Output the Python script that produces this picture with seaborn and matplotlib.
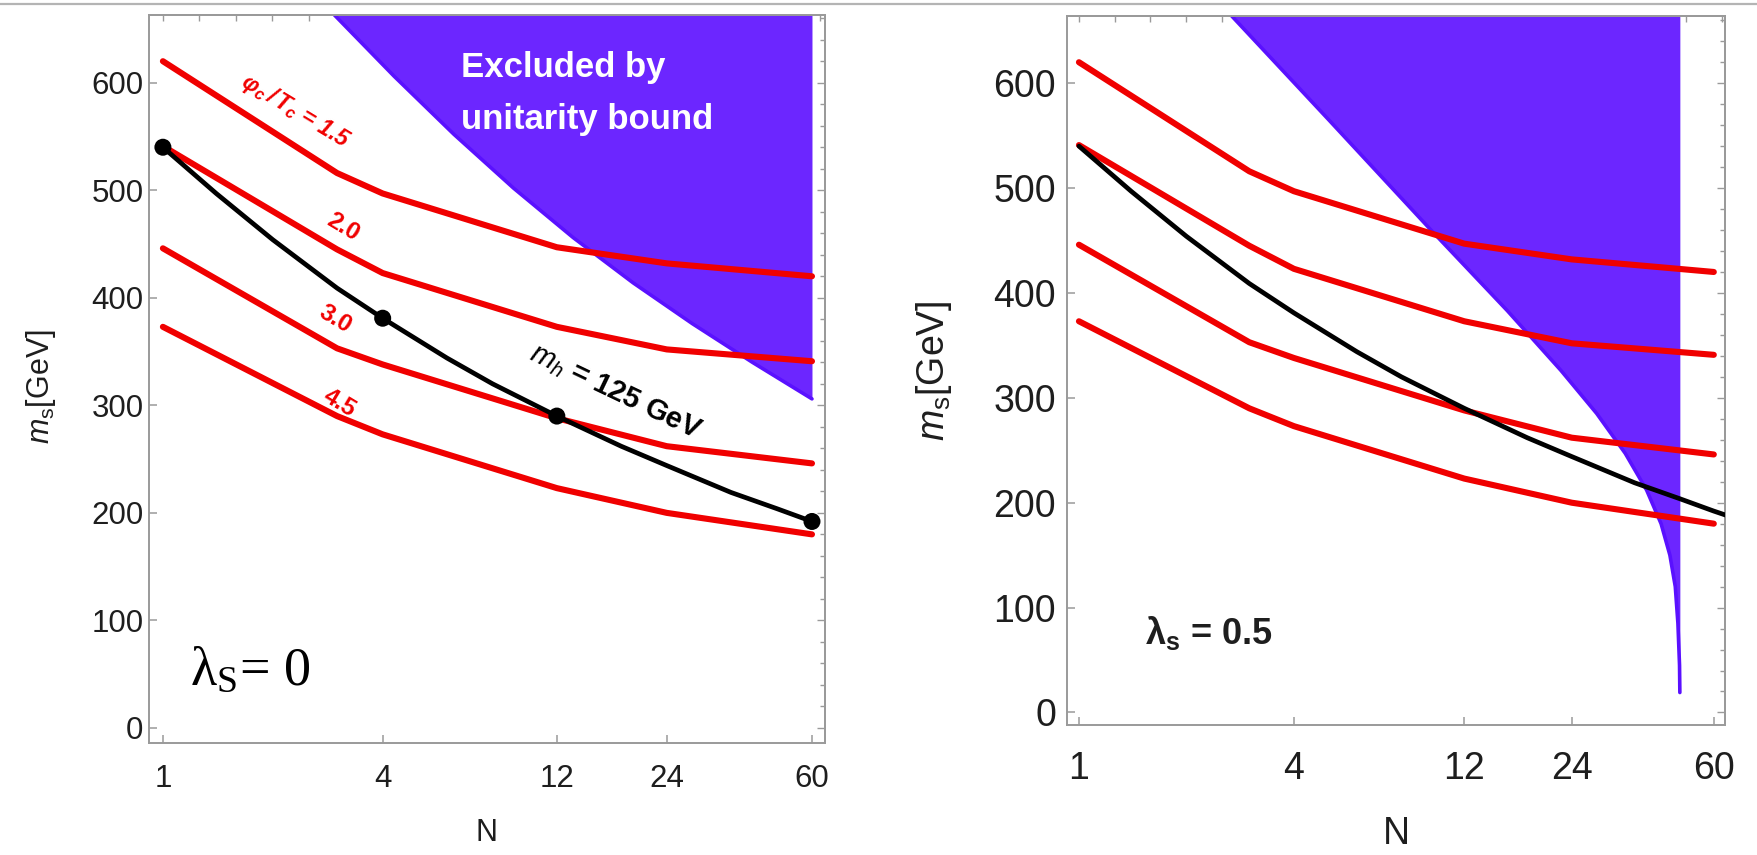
import numpy as np
import pandas as pd
import matplotlib
matplotlib.use("Agg")
import matplotlib.pyplot as plt
import seaborn as sns
from matplotlib.ticker import FixedLocator, FixedFormatter, NullLocator, NullFormatter
from matplotlib.lines import Line2D

# ---------------- data ----------------
n_red = [1, 3, 4, 12, 24, 60]
red_15 = [620, 516, 497, 447, 432, 420]
red_20 = [541, 445, 423, 373, 352, 341]
red_30 = [446, 353, 338, 288, 262, 246]
red_45 = [373, 290, 273, 223, 200, 180]
red_labels = ["1.5", "2.0", "3.0", "4.5"]

n_black = [1, 1.4, 2, 3, 4, 6, 8, 12, 18, 24, 36, 48, 60, 65]
m_black = [540, 497, 454, 409, 381, 344, 320, 290, 262, 244, 219, 204, 192, 188]

n_dots = [1, 4, 12, 60]
m_dots = [540, 381, 290, 192]

# unitarity bound, left panel (lambda_S = 0)
n_bound_l = [2.80, 2.95, 4.30, 6.27, 9.13, 13.3, 19.4, 28.2, 41.2, 60]
m_bound_l = [680, 663, 606, 552, 502, 456, 414, 376, 340, 306]
n_edge_l = 60

# unitarity bound, right panel (lambda_S = 0.5)
n_bound_r = [2.60, 2.68, 5.01, 9.62, 15.85, 22.4, 28.2, 33.9, 38.9, 42.7, 45.2,
             46.8, 47.6, 48.1, 48.2]
m_bound_r = [675, 664, 565, 461, 383, 326, 285, 247, 212, 180, 150,
             120, 85, 45, 19]
n_edge_r = 48.2

x_ticks = [1, 4, 12, 24, 60]
x_tick_labels = ["1", "4", "12", "24", "60"]
y_ticks = [0, 100, 200, 300, 400, 500, 600]
y_tick_labels = ["0", "100", "200", "300", "400", "500", "600"]

# ---------------- style ----------------
sns.set_theme(style="white")
plt.rcParams["font.family"] = ["Liberation Sans", "DejaVu Sans"]
plt.rcParams["mathtext.fontset"] = "custom"
plt.rcParams["mathtext.rm"] = "Liberation Sans"
plt.rcParams["mathtext.it"] = "Liberation Sans:italic"
plt.rcParams["mathtext.bf"] = "Liberation Sans:bold"
plt.rcParams["mathtext.sf"] = "Liberation Sans"

RED = "#f00000"
FILL = "#6c26ff"
EDGE = "#5a10ff"
GREY = "#9a9a9a"
TXT = "#1e1e1e"

fig = plt.figure(figsize=(17.57, 8.55), dpi=100)
axL = fig.add_axes([0.0848, 0.1310, 0.3847, 0.8515])
axR = fig.add_axes([0.6073, 0.1520, 0.3745, 0.8292])

fig.add_artist(Line2D([0, 1], [1 - 4 / 855, 1 - 4 / 855], color="#b4b4b4", lw=1.6,
                      transform=fig.transFigure))

top_ticks = [10 ** (k / 10) for k in range(0, 19)]
right_minor = list(range(0, 661, 20))


def style_axis(ax, xlim, ylim, fs, xpad, ypad):
    ax.set_xscale("log")
    ax.set_xlim(*xlim)
    ax.set_ylim(*ylim)
    ax.xaxis.set_major_locator(FixedLocator(x_ticks))
    ax.xaxis.set_major_formatter(FixedFormatter(x_tick_labels))
    ax.xaxis.set_minor_locator(NullLocator())
    ax.yaxis.set_major_locator(FixedLocator(y_ticks))
    ax.yaxis.set_major_formatter(FixedFormatter(y_tick_labels))
    ax.yaxis.set_minor_locator(NullLocator())
    ax.tick_params(axis="x", which="major", direction="in", length=6, width=1.1,
                   color=GREY, labelsize=fs, pad=xpad, labelcolor=TXT,
                   bottom=True, top=False)
    ax.tick_params(axis="y", which="major", direction="in", length=6, width=1.1,
                   color=GREY, labelsize=fs, pad=ypad, labelcolor=TXT,
                   left=True, right=False)
    for s in ax.spines.values():
        s.set_visible(True)
        s.set_color(GREY)
        s.set_linewidth(1.4)
    ax.grid(False)
    top = ax.secondary_xaxis("top")
    top.xaxis.set_major_locator(FixedLocator(top_ticks))
    top.xaxis.set_major_formatter(NullFormatter())
    top.xaxis.set_minor_locator(NullLocator())
    top.tick_params(direction="in", length=4, width=1.0, color=GREY)
    for s in top.spines.values():
        s.set_color(GREY)
        s.set_linewidth(1.4)
    right = ax.secondary_yaxis("right")
    right.yaxis.set_major_locator(FixedLocator(y_ticks))
    right.yaxis.set_major_formatter(NullFormatter())
    right.yaxis.set_minor_locator(FixedLocator(right_minor))
    right.tick_params(which="major", direction="in", length=6, width=1.0, color=GREY)
    right.tick_params(which="minor", direction="in", length=3.5, width=1.0, color=GREY)
    for s in right.spines.values():
        s.set_color(GREY)
        s.set_linewidth(1.4)


def draw_curves(ax, black_n, black_m):
    for vals in [red_15, red_20, red_30, red_45]:
        sns.lineplot(x=n_red, y=vals, ax=ax, color=RED, lw=4.4, estimator=None,
                     sort=False, zorder=3, legend=False)
    sns.lineplot(x=black_n, y=black_m, ax=ax, color="black", lw=3.4, estimator=None,
                 sort=False, zorder=4, legend=False)


# ---------------- left panel ----------------
style_axis(axL, (0.916, 65.1), (-14, 663), 22.5, 15, 4)
axL.fill_betweenx(m_bound_l, n_bound_l, n_edge_l, color=FILL, lw=0, zorder=1)
sns.lineplot(x=n_bound_l, y=m_bound_l, ax=axL, color=EDGE, lw=2.6, estimator=None,
             sort=False, zorder=2, legend=False)
draw_curves(axL, n_black[:-1], m_black[:-1])
sns.scatterplot(x=n_dots, y=m_dots, ax=axL, color="black", s=150, zorder=5,
                edgecolor="none", legend=False)

axL.text(6.55, 614, "Excluded by", color="white", fontsize=25, fontweight="bold",
         ha="left", va="center", zorder=6)
axL.text(6.55, 566, "unitarity bound", color="white", fontsize=25, fontweight="bold",
         ha="left", va="center", zorder=6)

axL.text(2.30, 574, r"$\mathregular{φ_c\,/\,T_c}$ = 1.5", color=RED, fontsize=16.5,
         style="italic", fontweight="bold",
         rotation=-31, rotation_mode="anchor", ha="center", va="center", zorder=6)
label_pos = [(3.11, 466), (2.96, 380), (3.05, 302)]
for lab, (nx, my) in zip(red_labels[1:], label_pos):
    axL.text(nx, my, lab, color=RED, fontsize=17.5, fontweight="bold",
             rotation=-31, rotation_mode="anchor", ha="center", va="center", zorder=6)

axL.text(17.3, 312, r"$m_h$ = 125 GeV", color="black", fontsize=21, fontweight="bold",
         rotation=-25.5, rotation_mode="anchor", ha="center", va="center", zorder=6)

axL.text(1.19, 40, r"$\mathregular{λ_S}$= 0", family=["Liberation Serif", "DejaVu Serif"],
         fontsize=39, color="black", ha="left", va="baseline", zorder=6)

axL.set_xlabel("N", fontsize=22, color=TXT)
axL.set_ylabel(r"$m_\mathrm{s}$[GeV]", fontsize=22, color=TXT)
axL.xaxis.set_label_coords(0.5, -0.103)
axL.yaxis.set_label_coords(-0.135, 0.49)

# ---------------- right panel ----------------
style_axis(axR, (0.926, 64.5), (-12, 664), 27, 19, 8)
axR.fill_betweenx(m_bound_r, n_bound_r, n_edge_r, color=FILL, lw=0, zorder=1)
sns.lineplot(x=n_bound_r, y=m_bound_r, ax=axR, color=EDGE, lw=2.6, estimator=None,
             sort=False, zorder=2, legend=False)
draw_curves(axR, n_black, m_black)

axR.text(1.53, 76, r"$\mathregular{λ_s}$ = 0.5", fontsize=26, fontweight="bold",
         color=TXT, ha="left", va="center", zorder=6)

axR.set_xlabel("N", fontsize=27, color=TXT)
axR.set_ylabel(r"$m_\mathrm{s}$[GeV]", fontsize=27, color=TXT)
axR.xaxis.set_label_coords(0.5, -0.128)
axR.yaxis.set_label_coords(-0.172, 0.5)

fig.savefig("out.png", dpi=100, facecolor="white")
